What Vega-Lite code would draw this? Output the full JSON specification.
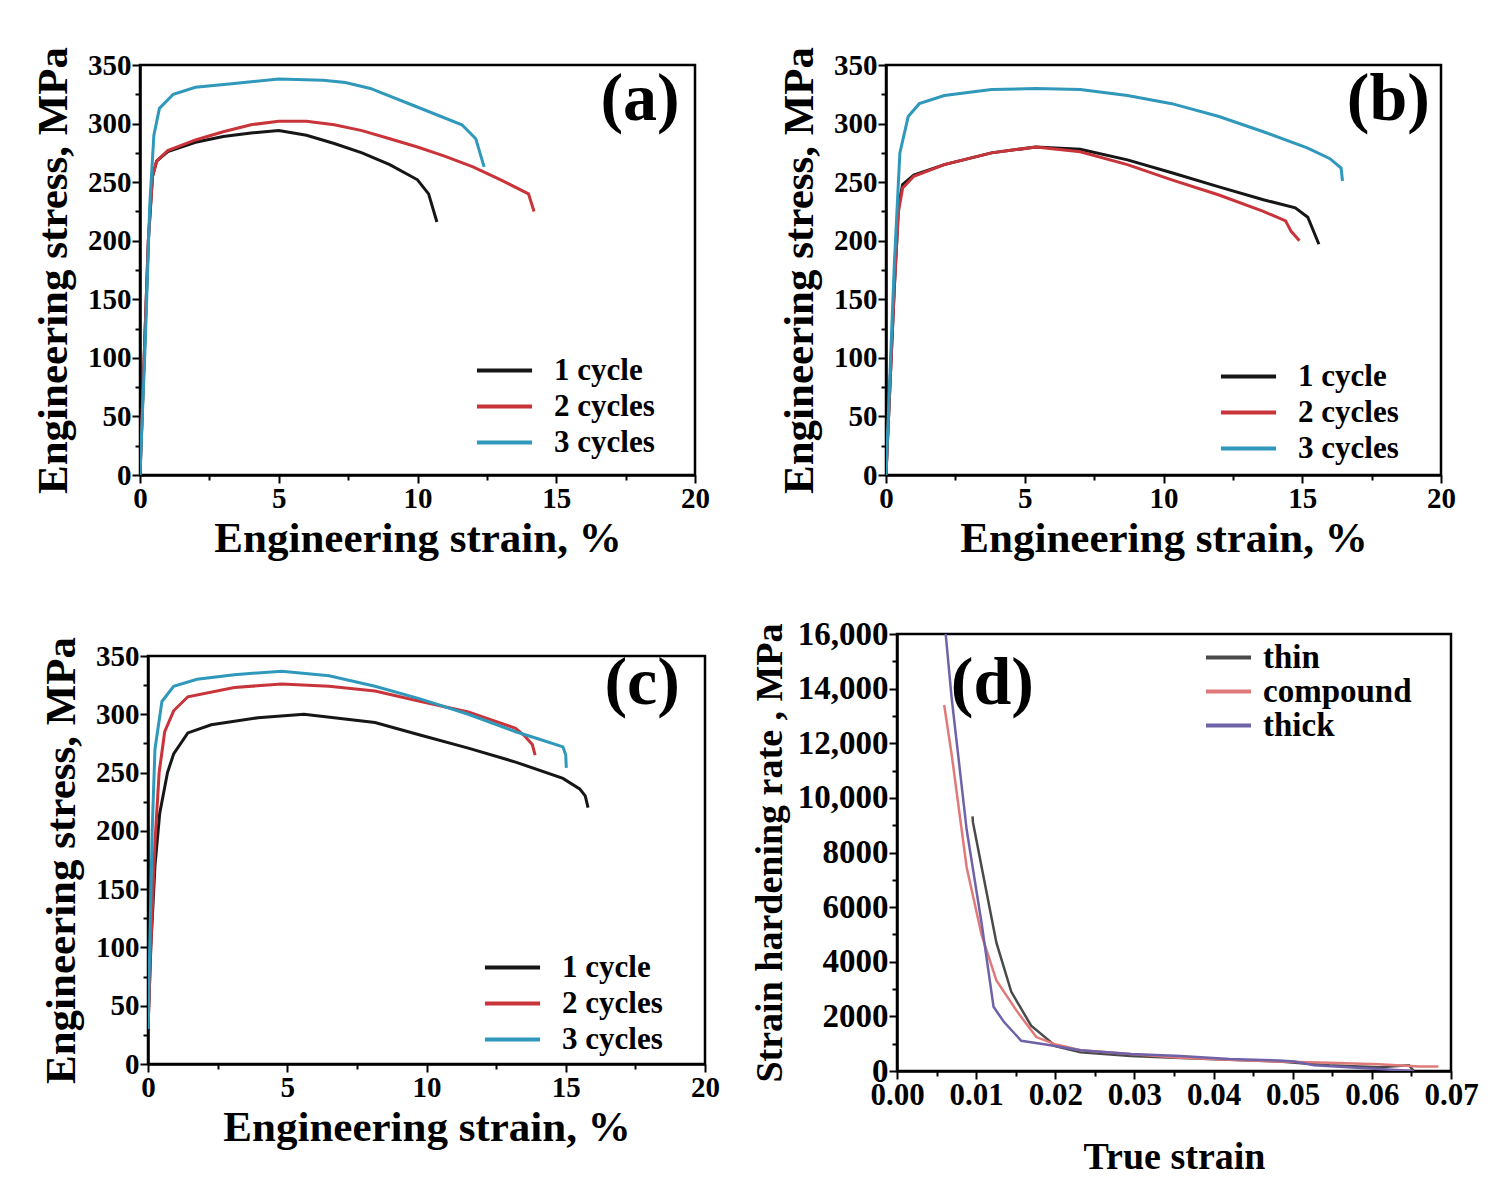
{
  "$schema": "https://vega.github.io/schema/vega-lite/v6.json",
  "padding": {"left": 31, "top": 45, "right": 5, "bottom": 5},
  "background": "white",
  "datasets": {
    "a": [
      {"series": "1 cycle", "strain": 0, "value": 0},
      {"series": "1 cycle", "strain": 0.15, "value": 100},
      {"series": "1 cycle", "strain": 0.3, "value": 200},
      {"series": "1 cycle", "strain": 0.45, "value": 255},
      {"series": "1 cycle", "strain": 0.6, "value": 268},
      {"series": "1 cycle", "strain": 1, "value": 276},
      {"series": "1 cycle", "strain": 2, "value": 284},
      {"series": "1 cycle", "strain": 3, "value": 289},
      {"series": "1 cycle", "strain": 4, "value": 292},
      {"series": "1 cycle", "strain": 5, "value": 294},
      {"series": "1 cycle", "strain": 6, "value": 290},
      {"series": "1 cycle", "strain": 7, "value": 283},
      {"series": "1 cycle", "strain": 8, "value": 275},
      {"series": "1 cycle", "strain": 9, "value": 265},
      {"series": "1 cycle", "strain": 10, "value": 252},
      {"series": "1 cycle", "strain": 10.4, "value": 240},
      {"series": "1 cycle", "strain": 10.7, "value": 216},
      {"series": "2 cycles", "strain": 0, "value": 0},
      {"series": "2 cycles", "strain": 0.15, "value": 100},
      {"series": "2 cycles", "strain": 0.3, "value": 200},
      {"series": "2 cycles", "strain": 0.45, "value": 255},
      {"series": "2 cycles", "strain": 0.6, "value": 268},
      {"series": "2 cycles", "strain": 1, "value": 277},
      {"series": "2 cycles", "strain": 2, "value": 286},
      {"series": "2 cycles", "strain": 3, "value": 293},
      {"series": "2 cycles", "strain": 4, "value": 299},
      {"series": "2 cycles", "strain": 5, "value": 302},
      {"series": "2 cycles", "strain": 6, "value": 302},
      {"series": "2 cycles", "strain": 7, "value": 299},
      {"series": "2 cycles", "strain": 8, "value": 294},
      {"series": "2 cycles", "strain": 9, "value": 287},
      {"series": "2 cycles", "strain": 10, "value": 280},
      {"series": "2 cycles", "strain": 11, "value": 272},
      {"series": "2 cycles", "strain": 12, "value": 263},
      {"series": "2 cycles", "strain": 13, "value": 252},
      {"series": "2 cycles", "strain": 14, "value": 240},
      {"series": "2 cycles", "strain": 14.2, "value": 225},
      {"series": "3 cycles", "strain": 0, "value": 0},
      {"series": "3 cycles", "strain": 0.2, "value": 120},
      {"series": "3 cycles", "strain": 0.35, "value": 230},
      {"series": "3 cycles", "strain": 0.5, "value": 290},
      {"series": "3 cycles", "strain": 0.7, "value": 313},
      {"series": "3 cycles", "strain": 1.2, "value": 325},
      {"series": "3 cycles", "strain": 2, "value": 331},
      {"series": "3 cycles", "strain": 3.3, "value": 334},
      {"series": "3 cycles", "strain": 5, "value": 338},
      {"series": "3 cycles", "strain": 6.6, "value": 337},
      {"series": "3 cycles", "strain": 7.4, "value": 335},
      {"series": "3 cycles", "strain": 8.3, "value": 330},
      {"series": "3 cycles", "strain": 9.9, "value": 315},
      {"series": "3 cycles", "strain": 11.6, "value": 299},
      {"series": "3 cycles", "strain": 12.1, "value": 287},
      {"series": "3 cycles", "strain": 12.4, "value": 263}
    ],
    "b": [
      {"series": "1 cycle", "strain": 0, "value": 0},
      {"series": "1 cycle", "strain": 0.15, "value": 80},
      {"series": "1 cycle", "strain": 0.3, "value": 160},
      {"series": "1 cycle", "strain": 0.45, "value": 230},
      {"series": "1 cycle", "strain": 0.6, "value": 248},
      {"series": "1 cycle", "strain": 1, "value": 256},
      {"series": "1 cycle", "strain": 2.1, "value": 265},
      {"series": "1 cycle", "strain": 3.8, "value": 275},
      {"series": "1 cycle", "strain": 5.4, "value": 280},
      {"series": "1 cycle", "strain": 7, "value": 278},
      {"series": "1 cycle", "strain": 8.7, "value": 269},
      {"series": "1 cycle", "strain": 10.3, "value": 258},
      {"series": "1 cycle", "strain": 12, "value": 246},
      {"series": "1 cycle", "strain": 13.6, "value": 235},
      {"series": "1 cycle", "strain": 14.75, "value": 228},
      {"series": "1 cycle", "strain": 15.2, "value": 220},
      {"series": "1 cycle", "strain": 15.6, "value": 197},
      {"series": "2 cycles", "strain": 0, "value": 0},
      {"series": "2 cycles", "strain": 0.15, "value": 80},
      {"series": "2 cycles", "strain": 0.3, "value": 160},
      {"series": "2 cycles", "strain": 0.45, "value": 225},
      {"series": "2 cycles", "strain": 0.6, "value": 245},
      {"series": "2 cycles", "strain": 1, "value": 255},
      {"series": "2 cycles", "strain": 2.1, "value": 265},
      {"series": "2 cycles", "strain": 3.8, "value": 275},
      {"series": "2 cycles", "strain": 5.4, "value": 280},
      {"series": "2 cycles", "strain": 7, "value": 276},
      {"series": "2 cycles", "strain": 8.7, "value": 265},
      {"series": "2 cycles", "strain": 10.3, "value": 252},
      {"series": "2 cycles", "strain": 12, "value": 239},
      {"series": "2 cycles", "strain": 13.6, "value": 225},
      {"series": "2 cycles", "strain": 14.4, "value": 217},
      {"series": "2 cycles", "strain": 14.6, "value": 208},
      {"series": "2 cycles", "strain": 14.9, "value": 200},
      {"series": "3 cycles", "strain": 0, "value": 0},
      {"series": "3 cycles", "strain": 0.15, "value": 90},
      {"series": "3 cycles", "strain": 0.3, "value": 180},
      {"series": "3 cycles", "strain": 0.5, "value": 275},
      {"series": "3 cycles", "strain": 0.8, "value": 306},
      {"series": "3 cycles", "strain": 1.2, "value": 317},
      {"series": "3 cycles", "strain": 2.1, "value": 324},
      {"series": "3 cycles", "strain": 3.8, "value": 329},
      {"series": "3 cycles", "strain": 5.4, "value": 330},
      {"series": "3 cycles", "strain": 7, "value": 329},
      {"series": "3 cycles", "strain": 8.7, "value": 324},
      {"series": "3 cycles", "strain": 10.3, "value": 317},
      {"series": "3 cycles", "strain": 12, "value": 306},
      {"series": "3 cycles", "strain": 13.6, "value": 293},
      {"series": "3 cycles", "strain": 15.2, "value": 279},
      {"series": "3 cycles", "strain": 16, "value": 270},
      {"series": "3 cycles", "strain": 16.4, "value": 262},
      {"series": "3 cycles", "strain": 16.45, "value": 251}
    ],
    "c": [
      {"series": "1 cycle", "strain": 0, "value": 30},
      {"series": "1 cycle", "strain": 0.1, "value": 100},
      {"series": "1 cycle", "strain": 0.25, "value": 170},
      {"series": "1 cycle", "strain": 0.42, "value": 215},
      {"series": "1 cycle", "strain": 0.7, "value": 250},
      {"series": "1 cycle", "strain": 0.92, "value": 266},
      {"series": "1 cycle", "strain": 1.43, "value": 284},
      {"series": "1 cycle", "strain": 2.27, "value": 291},
      {"series": "1 cycle", "strain": 3.95, "value": 297},
      {"series": "1 cycle", "strain": 5.6, "value": 300},
      {"series": "1 cycle", "strain": 8.15, "value": 293},
      {"series": "1 cycle", "strain": 9.8, "value": 282},
      {"series": "1 cycle", "strain": 11.5, "value": 271},
      {"series": "1 cycle", "strain": 13.2, "value": 259},
      {"series": "1 cycle", "strain": 14.9, "value": 245},
      {"series": "1 cycle", "strain": 15.5, "value": 236},
      {"series": "1 cycle", "strain": 15.7, "value": 230},
      {"series": "1 cycle", "strain": 15.8, "value": 220},
      {"series": "2 cycles", "strain": 0, "value": 30},
      {"series": "2 cycles", "strain": 0.1, "value": 100},
      {"series": "2 cycles", "strain": 0.25, "value": 190},
      {"series": "2 cycles", "strain": 0.4, "value": 250},
      {"series": "2 cycles", "strain": 0.6, "value": 285},
      {"series": "2 cycles", "strain": 0.92, "value": 303},
      {"series": "2 cycles", "strain": 1.43, "value": 315},
      {"series": "2 cycles", "strain": 3.1, "value": 323},
      {"series": "2 cycles", "strain": 4.8, "value": 326},
      {"series": "2 cycles", "strain": 6.5, "value": 324},
      {"series": "2 cycles", "strain": 8.15, "value": 320},
      {"series": "2 cycles", "strain": 9.8, "value": 311},
      {"series": "2 cycles", "strain": 11.5, "value": 302},
      {"series": "2 cycles", "strain": 13.2, "value": 288},
      {"series": "2 cycles", "strain": 13.5, "value": 282},
      {"series": "2 cycles", "strain": 13.8, "value": 274},
      {"series": "2 cycles", "strain": 13.9, "value": 265},
      {"series": "3 cycles", "strain": 0, "value": 30},
      {"series": "3 cycles", "strain": 0.08, "value": 120},
      {"series": "3 cycles", "strain": 0.15, "value": 200},
      {"series": "3 cycles", "strain": 0.25, "value": 270},
      {"series": "3 cycles", "strain": 0.5, "value": 311},
      {"series": "3 cycles", "strain": 0.92, "value": 324},
      {"series": "3 cycles", "strain": 1.76, "value": 330},
      {"series": "3 cycles", "strain": 3.1, "value": 334},
      {"series": "3 cycles", "strain": 4.8, "value": 337},
      {"series": "3 cycles", "strain": 6.5, "value": 333},
      {"series": "3 cycles", "strain": 8.15, "value": 324},
      {"series": "3 cycles", "strain": 9.8, "value": 313},
      {"series": "3 cycles", "strain": 11.5, "value": 300},
      {"series": "3 cycles", "strain": 13.2, "value": 285},
      {"series": "3 cycles", "strain": 14, "value": 279},
      {"series": "3 cycles", "strain": 14.9, "value": 272},
      {"series": "3 cycles", "strain": 15, "value": 265},
      {"series": "3 cycles", "strain": 15.02, "value": 254}
    ],
    "d": [
      {"series": "thin", "strain": 0.00954, "value": 9323},
      {"series": "thin", "strain": 0.0096, "value": 9100},
      {"series": "thin", "strain": 0.0107, "value": 7460},
      {"series": "thin", "strain": 0.01256, "value": 4700},
      {"series": "thin", "strain": 0.01444, "value": 2900},
      {"series": "thin", "strain": 0.01695, "value": 1657},
      {"series": "thin", "strain": 0.0201, "value": 900},
      {"series": "thin", "strain": 0.0232, "value": 690},
      {"series": "thin", "strain": 0.0295, "value": 550},
      {"series": "thin", "strain": 0.0358, "value": 480},
      {"series": "thin", "strain": 0.042, "value": 414},
      {"series": "thin", "strain": 0.0483, "value": 345},
      {"series": "thin", "strain": 0.0515, "value": 276},
      {"series": "thin", "strain": 0.0546, "value": 207},
      {"series": "thin", "strain": 0.0609, "value": 138},
      {"series": "thin", "strain": 0.0647, "value": 207},
      {"series": "thin", "strain": 0.0653, "value": 0},
      {"series": "compound", "strain": 0.00596, "value": 13400},
      {"series": "compound", "strain": 0.0069, "value": 11600},
      {"series": "compound", "strain": 0.0088, "value": 7460},
      {"series": "compound", "strain": 0.0107, "value": 4970},
      {"series": "compound", "strain": 0.01256, "value": 3315},
      {"series": "compound", "strain": 0.0151, "value": 2210},
      {"series": "compound", "strain": 0.0176, "value": 1243},
      {"series": "compound", "strain": 0.0201, "value": 967},
      {"series": "compound", "strain": 0.0232, "value": 760},
      {"series": "compound", "strain": 0.0295, "value": 620},
      {"series": "compound", "strain": 0.0358, "value": 483},
      {"series": "compound", "strain": 0.042, "value": 414},
      {"series": "compound", "strain": 0.0483, "value": 345},
      {"series": "compound", "strain": 0.0546, "value": 300},
      {"series": "compound", "strain": 0.0609, "value": 250},
      {"series": "compound", "strain": 0.066, "value": 166},
      {"series": "compound", "strain": 0.0684, "value": 166},
      {"series": "thick", "strain": 0.00615, "value": 16000},
      {"series": "thick", "strain": 0.0069, "value": 13670},
      {"series": "thick", "strain": 0.0088, "value": 8840},
      {"series": "thick", "strain": 0.0107, "value": 5390},
      {"series": "thick", "strain": 0.0122, "value": 2350},
      {"series": "thick", "strain": 0.0135, "value": 1800},
      {"series": "thick", "strain": 0.0157, "value": 1105},
      {"series": "thick", "strain": 0.0188, "value": 967},
      {"series": "thick", "strain": 0.0232, "value": 760},
      {"series": "thick", "strain": 0.0295, "value": 620},
      {"series": "thick", "strain": 0.0358, "value": 552},
      {"series": "thick", "strain": 0.042, "value": 442},
      {"series": "thick", "strain": 0.0483, "value": 387},
      {"series": "thick", "strain": 0.0502, "value": 345},
      {"series": "thick", "strain": 0.0527, "value": 207},
      {"series": "thick", "strain": 0.0609, "value": 69},
      {"series": "thick", "strain": 0.0653, "value": 0}
    ]
  },
  "vconcat": [
    {
      "hconcat": [
        {
          "width": 555,
          "height": 410,
          "data": {"name": "a"},
          "layer": [
            {
              "mark": {"type": "line", "strokeWidth": 3, "clip": true},
              "encoding": {
                "x": {"field": "strain", "type": "quantitative", "scale": {"domain": [0, 20], "nice": false}, "axis": {"values": [0, 5, 10, 15, 20], "title": "Engineering strain, %"}},
                "y": {"field": "value", "type": "quantitative", "scale": {"domain": [0, 350], "nice": false}, "axis": {"values": [0, 50, 100, 150, 200, 250, 300, 350], "title": "Engineering stress, MPa"}},
                "color": {
                  "field": "series", "type": "nominal",
                  "scale": {"domain": ["1 cycle", "2 cycles", "3 cycles"], "range": ["#161616", "#c8343a", "#2f98bb"]},
                  "legend": {"orient": "none", "legendX": 344, "legendY": 285}
                }
              }
            },
            {
              "data": {"values": [{"label": "(a)"}]},
              "mark": {"type": "text", "fontSize": 68, "fontWeight": "bold", "align": "right", "baseline": "middle"},
              "encoding": {
                "text": {"field": "label"},
                "x": {"datum": 19.45, "axis": {"orient": "bottom", "values": [2.5, 7.5, 12.5, 17.5], "labels": false, "domain": false, "tickSize": 5, "title": null}},
                "y": {"datum": 320, "axis": {"orient": "left", "values": [25, 75, 125, 175, 225, 275, 325], "labels": false, "domain": false, "tickSize": 5, "title": null}}
              }
            }
          ],
          "resolve": {"axis": {"x": "independent", "y": "independent"}}
        },
        {
          "width": 555,
          "height": 410,
          "data": {"name": "b"},
          "layer": [
            {
              "mark": {"type": "line", "strokeWidth": 3, "clip": true},
              "encoding": {
                "x": {"field": "strain", "type": "quantitative", "scale": {"domain": [0, 20], "nice": false}, "axis": {"values": [0, 5, 10, 15, 20], "title": "Engineering strain, %"}},
                "y": {"field": "value", "type": "quantitative", "scale": {"domain": [0, 350], "nice": false}, "axis": {"values": [0, 50, 100, 150, 200, 250, 300, 350], "title": "Engineering stress, MPa"}},
                "color": {
                  "field": "series", "type": "nominal",
                  "scale": {"domain": ["1 cycle", "2 cycles", "3 cycles"], "range": ["#161616", "#c8343a", "#2f98bb"]},
                  "legend": {"orient": "none", "legendX": 342, "legendY": 291}
                }
              }
            },
            {
              "data": {"values": [{"label": "(b)"}]},
              "mark": {"type": "text", "fontSize": 68, "fontWeight": "bold", "align": "right", "baseline": "middle"},
              "encoding": {
                "text": {"field": "label"},
                "x": {"datum": 19.6, "axis": {"orient": "bottom", "values": [2.5, 7.5, 12.5, 17.5], "labels": false, "domain": false, "tickSize": 5, "title": null}},
                "y": {"datum": 320, "axis": {"orient": "left", "values": [25, 75, 125, 175, 225, 275, 325], "labels": false, "domain": false, "tickSize": 5, "title": null}}
              }
            }
          ],
          "resolve": {"axis": {"x": "independent", "y": "independent"}}
        }
      ],
      "spacing": 66,
      "resolve": {"scale": {"color": "independent"}, "legend": {"color": "independent"}}
    },
    {
      "hconcat": [
        {
          "vconcat": [
            {"width": 1, "height": 1, "view": {"stroke": null}, "data": {"values": []}, "mark": {"type": "point", "opacity": 0}, "encoding": {}},
            {
              "hconcat": [
                {"width": 1, "height": 1, "view": {"stroke": null}, "data": {"values": []}, "mark": {"type": "point", "opacity": 0}, "encoding": {}},
                {
                  "width": 557,
                  "height": 408,
                  "data": {"name": "c"},
                  "layer": [
                    {
                      "mark": {"type": "line", "strokeWidth": 3, "clip": true},
                      "encoding": {
                        "x": {"field": "strain", "type": "quantitative", "scale": {"domain": [0, 20], "nice": false}, "axis": {"values": [0, 5, 10, 15, 20], "title": "Engineering strain, %"}},
                        "y": {"field": "value", "type": "quantitative", "scale": {"domain": [0, 350], "nice": false}, "axis": {"values": [0, 50, 100, 150, 200, 250, 300, 350], "title": "Engineering stress, MPa"}},
                        "color": {
                          "field": "series", "type": "nominal",
                          "scale": {"domain": ["1 cycle", "2 cycles", "3 cycles"], "range": ["#161616", "#c8343a", "#2f98bb"]},
                          "legend": {"orient": "none", "legendX": 344, "legendY": 291}
                        }
                      }
                    },
                    {
                      "data": {"values": [{"label": "(c)"}]},
                      "mark": {"type": "text", "fontSize": 68, "fontWeight": "bold", "align": "right", "baseline": "middle"},
                      "encoding": {
                        "text": {"field": "label"},
                        "x": {"datum": 19.1, "axis": {"orient": "bottom", "values": [2.5, 7.5, 12.5, 17.5], "labels": false, "domain": false, "tickSize": 5, "title": null}},
                        "y": {"datum": 326, "axis": {"orient": "left", "values": [25, 75, 125, 175, 225, 275, 325], "labels": false, "domain": false, "tickSize": 5, "title": null}}
                      }
                    }
                  ],
                  "resolve": {"axis": {"x": "independent", "y": "independent"}}
                }
              ],
              "bounds": "flush",
              "spacing": 7,
              "resolve": {"scale": {"color": "independent"}, "legend": {"color": "independent"}}
            }
          ],
          "bounds": "flush",
          "spacing": 21,
          "resolve": {"scale": {"color": "independent"}, "legend": {"color": "independent"}}
        },
        {
          "width": 554,
          "height": 437,
          "data": {"name": "d"},
          "layer": [
            {
              "mark": {"type": "line", "strokeWidth": 2.5, "clip": true},
              "encoding": {
                "x": {"field": "strain", "type": "quantitative", "scale": {"domain": [0, 0.07], "nice": false}, "axis": {"values": [0, 0.01, 0.02, 0.03, 0.04, 0.05, 0.06, 0.07], "format": ".2f", "title": "True strain", "titlePadding": 28, "titleFontSize": 38, "labelFontSize": 31}},
                "y": {"field": "value", "type": "quantitative", "scale": {"domain": [0, 16000], "nice": false}, "axis": {"values": [0, 2000, 4000, 6000, 8000, 10000, 12000, 14000, 16000], "labelExpr": "datum.value >= 10000 ? format(datum.value, ',') : format(datum.value, 'd')", "title": "Strain hardening rate , MPa", "titleFontSize": 38, "labelFontSize": 33, "titlePadding": 8}},
                "color": {
                  "field": "series", "type": "nominal",
                  "scale": {"domain": ["thin", "compound", "thick"], "range": ["#4a4a4a", "#e07a7a", "#6f62a8"]},
                  "legend": {"orient": "none", "legendX": 315, "legendY": 7, "rowPadding": 0, "symbolType": "M-2.37,0H2.37", "symbolSize": 361, "labelOffset": 18, "labelFontSize": 33, "labelLimit": 400}
                }
              }
            },
            {
              "data": {"values": [{"label": "(d)"}]},
              "mark": {"type": "text", "fontSize": 68, "fontWeight": "bold", "align": "left", "baseline": "middle"},
              "encoding": {
                "text": {"field": "label"},
                "x": {"datum": 0.0068, "axis": {"orient": "bottom", "values": [0.005, 0.015, 0.025, 0.035, 0.045, 0.055, 0.065], "labels": false, "domain": false, "tickSize": 5, "title": null}},
                "y": {"datum": 14170, "axis": {"orient": "left", "values": [1000, 3000, 5000, 7000, 9000, 11000, 13000, 15000], "labels": false, "domain": false, "tickSize": 5, "title": null}}
              }
            }
          ],
          "resolve": {"axis": {"x": "independent", "y": "independent"}}
        }
      ],
      "spacing": 29,
      "resolve": {"scale": {"color": "independent"}, "legend": {"color": "independent"}}
    }
  ],
  "spacing": 54,
  "resolve": {"scale": {"color": "independent"}, "legend": {"color": "independent"}},
  "config": {
    "font": "Liberation Serif",
    "view": {"stroke": "black", "strokeWidth": 2.5},
    "text": {"font": "Liberation Serif", "color": "black"},
    "axis": {
      "grid": false,
      "domainColor": "black",
      "domainWidth": 2.5,
      "tickColor": "black",
      "tickWidth": 2,
      "tickSize": 8,
      "labelFont": "Liberation Serif",
      "labelFontWeight": "bold",
      "labelFontSize": 29,
      "labelColor": "black",
      "labelPadding": 1,
      "labelFlush": false,
      "labelOverlap": false,
      "titleFont": "Liberation Serif",
      "titleFontWeight": "bold",
      "titleFontSize": 43,
      "titleColor": "black",
      "titlePadding": 10
    },
    "axisX": {"titlePadding": 4},
    "axisY": {"titlePadding": 12},
    "legend": {
      "title": null,
      "symbolType": "M-1.49,0H1.49",
      "symbolSize": 1369,
      "symbolStrokeWidth": 4,
      "labelFont": "Liberation Serif",
      "labelFontWeight": "bold",
      "labelFontSize": 31,
      "labelColor": "black",
      "rowPadding": 0,
      "labelOffset": 29,
      "labelLimit": 400
    }
  }
}
